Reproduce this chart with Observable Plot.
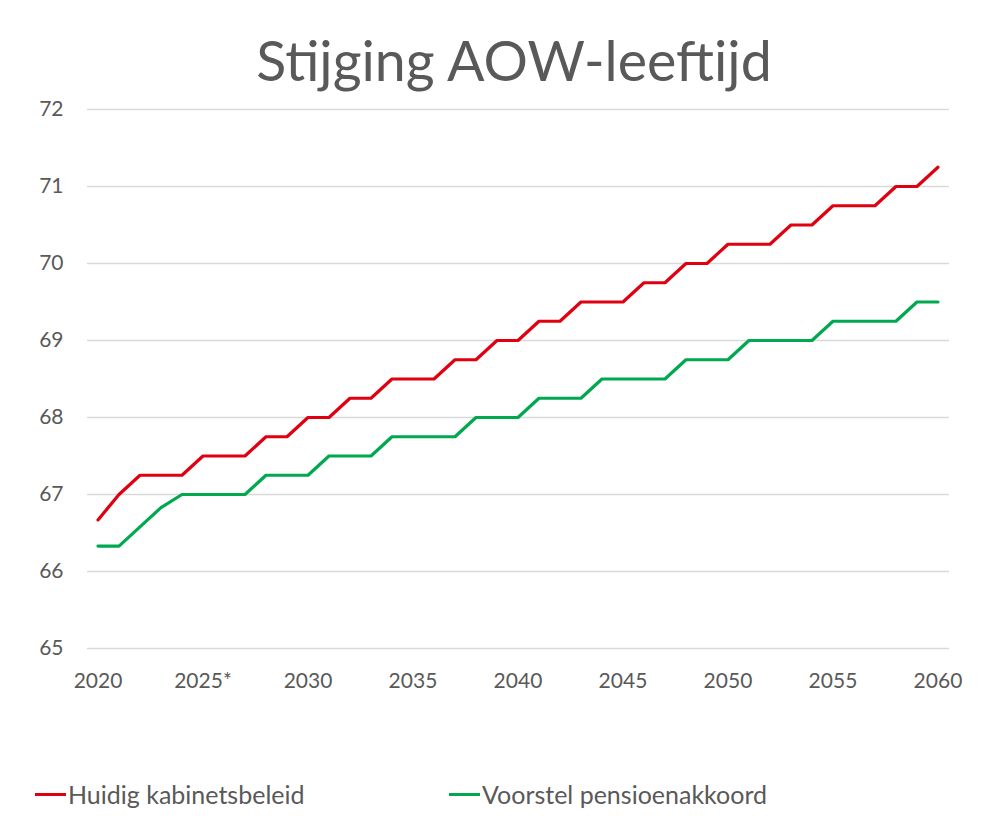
<!DOCTYPE html>
<html>
<head>
<meta charset="utf-8">
<script src="https://cdn.jsdelivr.net/npm/d3@7"></script>
<script src="https://cdn.jsdelivr.net/npm/@observablehq/plot@0.6"></script>
<style>
  html, body { margin: 0; padding: 0; background: #fff; }
  body { width: 1000px; height: 824px; position: relative; font-family: Lato, "Open Sans", sans-serif; color: #595959; overflow: hidden; }
  #title { position: absolute; left: 14px; top: 20px; width: 1000px; text-align: center; font-size: 55.5px; line-height: 80px; color: #595959; }
  #chart { position: absolute; left: 0; top: 95px; }
  #legend { position: absolute; left: 0; top: 776px; width: 1000px; height: 36px; font-size: 25px; }
  .item { position: absolute; top: 0; display: flex; align-items: center; height: 36px; }
  .swatch { width: 31px; height: 3px; margin-right: 2px; }
</style>
</head>
<body>
<div id="title">Stijging AOW-leeftijd</div>
<div id="chart"></div>
<div id="legend"></div>
<script>
const years = [2020,2021,2022,2023,2024,2025,2026,2027,2028,2029,2030,2031,2032,2033,2034,2035,2036,2037,2038,2039,2040,2041,2042,2043,2044,2045,2046,2047,2048,2049,2050,2051,2052,2053,2054,2055,2056,2057,2058,2059,2060];
const huidig = [66.67,67,67.25,67.25,67.25,67.5,67.5,67.5,67.75,67.75,68,68,68.25,68.25,68.5,68.5,68.5,68.75,68.75,69,69,69.25,69.25,69.5,69.5,69.5,69.75,69.75,70,70,70.25,70.25,70.25,70.5,70.5,70.75,70.75,70.75,71,71,71.25];
const voorstel = [66.33,66.33,66.58,66.83,67,67,67,67,67.25,67.25,67.25,67.5,67.5,67.5,67.75,67.75,67.75,67.75,68,68,68,68.25,68.25,68.25,68.5,68.5,68.5,68.5,68.75,68.75,68.75,69,69,69,69,69.25,69.25,69.25,69.25,69.5,69.5];
const seriesNames = ["Huidig kabinetsbeleid", "Voorstel pensioenakkoord"];
const seriesColors = ["#e0000f", "#00a84f"];
const xTicks = [2020,2025,2030,2035,2040,2045,2050,2055,2060];
const xTickLabels = ["2020","2025*","2030","2035","2040","2045","2050","2055","2060"];
const yTicks = [65,66,67,68,69,70,71,72];

const data = [];
years.forEach((yr, i) => {
  data.push({year: yr, value: huidig[i], series: seriesNames[0]});
  data.push({year: yr, value: voorstel[i], series: seriesNames[1]});
});

const plot = Plot.plot({
  width: 1000,
  height: 610,
  marginTop: 14,
  marginBottom: 57,
  marginLeft: 87,
  marginRight: 51,
  style: {fontFamily: "Lato, 'Open Sans', sans-serif", fontSize: "21px", color: "#595959", background: "#fff"},
  x: {domain: [2019.5, 2060.55], label: null},
  y: {domain: [65, 72], label: null},
  color: {domain: seriesNames, range: seriesColors},
  marks: [
    Plot.ruleY(yTicks, {stroke: "#d9d9d9", strokeWidth: 1.3}),
    Plot.axisX({ticks: xTicks, tickFormat: d => xTickLabels[xTicks.indexOf(d)], tickSize: 0, tickPadding: 25, label: null, fill: "#595959", fontSize: 21}),
    Plot.axisY({ticks: yTicks, tickFormat: d => String(d), tickSize: 0, tickPadding: 24, label: null, fill: "#595959", fontSize: 21}),
    Plot.line(data, {x: "year", y: "value", z: "series", stroke: "series", strokeWidth: 3.2, strokeLinejoin: "round", strokeLinecap: "round"})
  ]
});
document.getElementById("chart").appendChild(plot);

const legend = document.getElementById("legend");
const legendX = [35, 449];
seriesNames.forEach((name, i) => {
  const item = document.createElement("div");
  item.className = "item";
  item.style.left = legendX[i] + "px";
  const sw = document.createElement("div");
  sw.className = "swatch";
  sw.style.background = seriesColors[i];
  const t = document.createElement("span");
  t.textContent = name;
  item.appendChild(sw);
  item.appendChild(t);
  legend.appendChild(item);
});
</script>
</body>
</html>
